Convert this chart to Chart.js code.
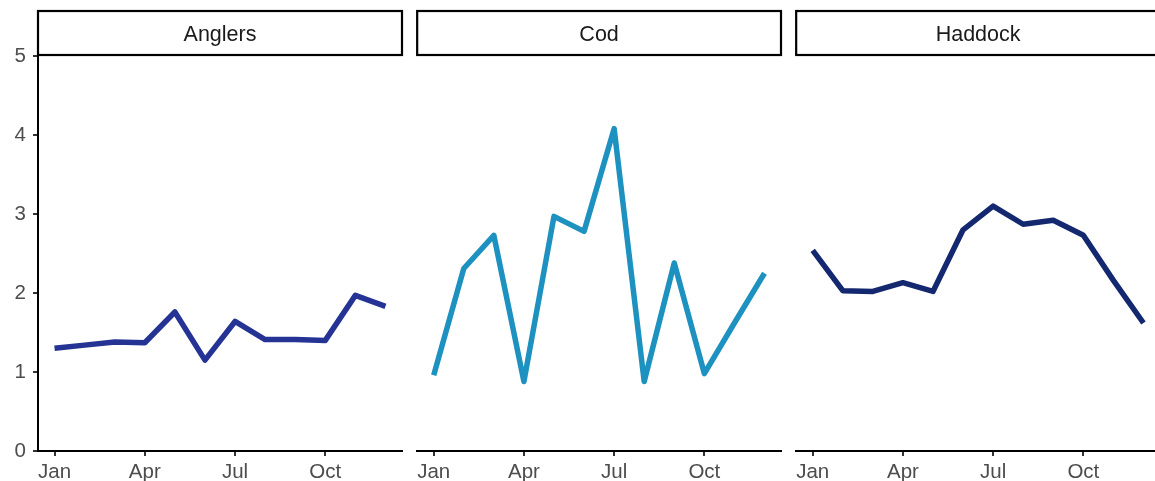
<!DOCTYPE html>
<html>
<head>
<meta charset="utf-8">
<script src="https://cdn.jsdelivr.net/npm/chart.js@4"></script>
<style>
  html, body { margin: 0; padding: 0; background: #ffffff; overflow: hidden; }
  body { width: 1155px; height: 481px; position: relative; }
  canvas { position: absolute; top: 0; }
</style>
</head>
<body>
<canvas id="p1" width="406" height="481" style="left:0px"></canvas>
<canvas id="p2" width="372" height="481" style="left:413px"></canvas>
<canvas id="p3" width="372" height="481" style="left:792px"></canvas>
<script>
// Monthly values per species (Jan..Dec)
const months = ['Jan', 'Feb', 'Mar', 'Apr', 'May', 'Jun', 'Jul', 'Aug', 'Sep', 'Oct', 'Nov', 'Dec'];
const xTickMonths = [0, 3, 6, 9];
const yTicks = [0, 1, 2, 3, 4, 5];
const species = ['Anglers', 'Cod', 'Haddock'];
const anglers = [1.30, 1.34, 1.38, 1.37, 1.76, 1.15, 1.64, 1.41, 1.41, 1.40, 1.97, 1.83];
const cod     = [0.96, 2.31, 2.73, 0.88, 2.97, 2.78, 4.08, 0.88, 2.38, 0.98, 1.62, 2.25];
const haddock = [2.54, 2.03, 2.02, 2.13, 2.02, 2.80, 3.10, 2.87, 2.92, 2.73, 2.16, 1.62];
const colors  = ['#253494', '#1d91c0', '#13286f'];

const FONT = "'Liberation Sans', Arial, Helvetica, sans-serif";
const PLOT_TOP = 56;     // top of the panel area
const AXIS_H = 30;       // space under the panels for the month labels
const STRIP_TOP = 11;

// Facet strip: boxed label sitting on top of each panel
const stripPlugin = {
  id: 'strip',
  afterDraw(chart, args, opts) {
    const { ctx, chartArea } = chart;
    ctx.save();
    ctx.fillStyle = '#ffffff';
    ctx.fillRect(chartArea.left, STRIP_TOP, chartArea.right - chartArea.left, PLOT_TOP - 1 - STRIP_TOP);
    ctx.strokeStyle = '#000000';
    ctx.lineWidth = 2.2;
    ctx.strokeRect(chartArea.left, STRIP_TOP, chartArea.right - chartArea.left, PLOT_TOP - 1 - STRIP_TOP);
    ctx.fillStyle = '#1a1a1a';
    ctx.font = '21.5px ' + FONT;
    ctx.textAlign = 'center';
    ctx.textBaseline = 'alphabetic';
    ctx.fillText(opts.text, (chartArea.left + chartArea.right) / 2, 41);
    ctx.restore();
  }
};

function makePanel(id, label, values, color, showY, padLeft) {
  const points = values.map((v, i) => ({ x: i, y: v }));
  return new Chart(document.getElementById(id), {
    type: 'line',
    data: {
      datasets: [{
        label: label,
        data: points,
        borderColor: color,
        borderWidth: 5.5,
        borderJoinStyle: 'round',
        borderCapStyle: 'butt',
        pointRadius: 0,
        pointHoverRadius: 0,
        fill: false,
        tension: 0
      }]
    },
    options: {
      responsive: false,
      devicePixelRatio: 1,
      animation: false,
      events: [],
      layout: { padding: { top: PLOT_TOP, left: padLeft, right: 4, bottom: 0 } },
      plugins: {
        legend: { display: false },
        tooltip: { enabled: false },
        strip: { text: label }
      },
      scales: {
        x: {
          type: 'linear',
          min: -0.55,
          max: 11.55,
          afterFit(scale) { scale.height = AXIS_H; },
          afterBuildTicks(scale) { scale.ticks = xTickMonths.map(v => ({ value: v })); },
          border: { display: true, color: '#000000', width: 2 },
          grid: { display: true, drawOnChartArea: false, drawTicks: true, tickLength: 5, color: '#333333', lineWidth: 2 },
          ticks: {
            autoSkip: false,
            maxRotation: 0,
            padding: 4,
            color: '#4d4d4d',
            font: { family: FONT, size: 20.5 },
            callback: (v) => months[v]
          }
        },
        y: {
          display: showY,
          min: 0,
          max: 5,
          afterFit(scale) { scale.width = showY ? 38 : 0; },
          afterBuildTicks(scale) { scale.ticks = yTicks.map(v => ({ value: v })); },
          border: { display: true, color: '#000000', width: 2 },
          grid: { display: true, drawOnChartArea: false, drawTicks: true, tickLength: 5, color: '#333333', lineWidth: 2 },
          ticks: {
            padding: 7,
            color: '#4d4d4d',
            font: { family: FONT, size: 20.5 }
          }
        }
      }
    },
    plugins: [stripPlugin]
  });
}

makePanel('p1', species[0], anglers, colors[0], true, 0);
makePanel('p2', species[1], cod, colors[1], false, 4);
makePanel('p3', species[2], haddock, colors[2], false, 4);
</script>
</body>
</html>
